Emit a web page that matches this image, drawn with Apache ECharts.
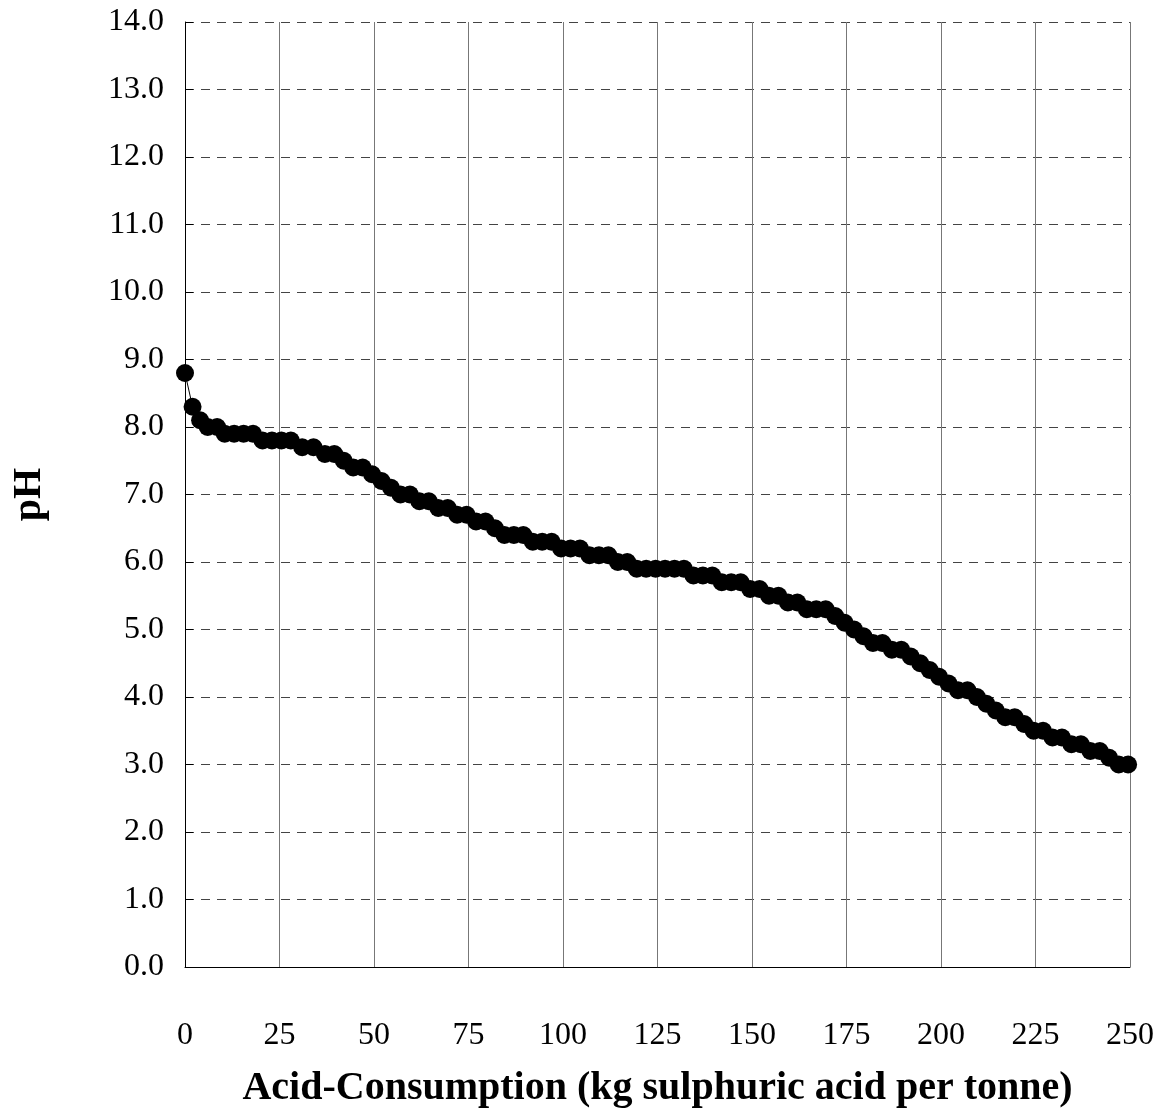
<!DOCTYPE html>
<html>
<head>
<meta charset="utf-8">
<script src="https://cdn.jsdelivr.net/npm/echarts@6/dist/echarts.min.js"></script>
<style>
  html, body { margin: 0; padding: 0; background: #fff; }
  #chart { width: 1165px; height: 1113px; }
</style>
</head>
<body>
<div id="chart"></div>
<script>
// acid added (kg H2SO4 per tonne)
const acidKg = [0, 2, 4, 6, 8.5, 10.5, 13, 15.5, 18, 20.5, 23, 25.5, 28, 31, 34, 37, 39.5, 42, 44.5, 47,
  49.5, 52, 54.5, 57, 59.5, 62, 64.5, 67, 69.5, 72, 74.5, 77, 79.5, 82, 84.5, 87, 89.5, 92, 94.5, 97,
  99.5, 102, 104.5, 107, 109.5, 112, 114.5, 117, 119.5, 122, 124.5, 127, 129.5, 132, 134.5, 137, 139.5,
  142, 144.5, 147, 149.5, 152, 154.5, 157, 159.5, 162, 164.5, 167, 169.5, 172, 174.5, 177, 179.5, 182,
  184.5, 187, 189.5, 192, 194.5, 197, 199.5, 202, 204.5, 207, 209.5, 212, 214.5, 217, 219.5, 222, 224.5,
  227, 229.5, 232, 234.5, 237, 239.5, 242, 244.5, 247, 249.5];
// measured pH
const phValues = [8.8, 8.3, 8.1, 8.0, 8.0, 7.9, 7.9, 7.9, 7.9, 7.8, 7.8, 7.8, 7.8, 7.7, 7.7, 7.6, 7.6, 7.5, 7.4, 7.4,
  7.3, 7.2, 7.1, 7.0, 7.0, 6.9, 6.9, 6.8, 6.8, 6.7, 6.7, 6.6, 6.6, 6.5, 6.4, 6.4, 6.4, 6.3, 6.3, 6.3,
  6.2, 6.2, 6.2, 6.1, 6.1, 6.1, 6.0, 6.0, 5.9, 5.9, 5.9, 5.9, 5.9, 5.9, 5.8, 5.8, 5.8,
  5.7, 5.7, 5.7, 5.6, 5.6, 5.5, 5.5, 5.4, 5.4, 5.3, 5.3, 5.3, 5.2, 5.1, 5.0, 4.9, 4.8,
  4.8, 4.7, 4.7, 4.6, 4.5, 4.4, 4.3, 4.2, 4.1, 4.1, 4.0, 3.9, 3.8, 3.7, 3.7, 3.6, 3.5,
  3.5, 3.4, 3.4, 3.3, 3.3, 3.2, 3.2, 3.1, 3.0, 3.0];

const fontFamily = "'Liberation Serif', 'Times New Roman', serif";

const myChart = echarts.init(document.getElementById("chart"));
const option = {
  animation: false,
  grid: { left: 185, right: 35, top: 22, bottom: 146, outerBoundsMode: "none" },
  xAxis: {
    type: "value",
    min: 0,
    max: 250,
    interval: 25,
    name: "Acid-Consumption (kg sulphuric acid per tonne)",
    nameLocation: "middle",
    nameGap: 102,
    nameTextStyle: { color: "#000", fontFamily, fontSize: 40, fontWeight: "bold" },
    axisLine: { lineStyle: { color: "#000", width: 1 } },
    axisTick: { show: false },
    axisLabel: { color: "#000", fontFamily, fontSize: 32, margin: 53 },
    splitLine: { show: true, lineStyle: { color: "#777", width: 1 } },
  },
  yAxis: {
    type: "value",
    min: 0,
    max: 14,
    interval: 1,
    name: "pH",
    nameLocation: "middle",
    nameGap: 135,
    nameTextStyle: { color: "#000", fontFamily, fontSize: 40, fontWeight: "bold" },
    axisLine: { show: true, lineStyle: { color: "#000", width: 1 } },
    axisTick: { show: true, inside: true, length: 8, lineStyle: { color: "#000" } },
    axisLabel: {
      color: "#000",
      fontFamily,
      fontSize: 32,
      margin: 21,
      formatter: (v) => v.toFixed(1),
    },
    splitLine: { show: true, lineStyle: { color: "#444", width: 1, type: [9, 7] } },
  },
  series: [
    {
      type: "line",
      data: acidKg.map((x, i) => [x, phValues[i]]),
      symbol: "circle",
      symbolSize: 18,
      itemStyle: { color: "#000" },
      lineStyle: { color: "#000", width: 1 },
    },
  ],
};
myChart.setOption(option);
</script>
</body>
</html>
